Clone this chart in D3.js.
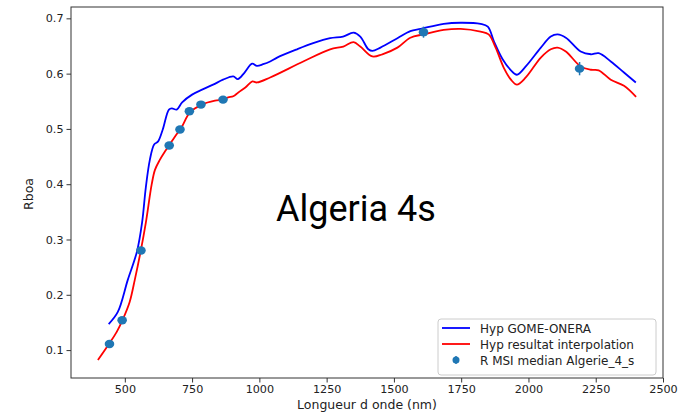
<!DOCTYPE html>
<html><head><meta charset="utf-8">
<script src="https://cdn.jsdelivr.net/npm/d3@7"></script>
<style>body{margin:0;background:#fff}svg{display:block}</style>
</head><body>
<svg id="c" width="695" height="414"></svg>
<script>
const xTicks = [500, 750, 1000, 1250, 1500, 1750, 2000, 2250, 2500];
const yTicks = [0.1, 0.2, 0.3, 0.4, 0.5, 0.6, 0.7];

const blueWl = [440,474,511,545,564,578,593,609,623,641,664,675,693,713,750,787,828,865,903,920,945,973,991,1014,1040,1066,1140,1200,1263,1311,1350,1375,1405,1420,1450,1513,1561,1600,1685,1748,1822,1849,1872,1904,1935,1957,1990,2046,2083,2108,2139,2194,2232,2261,2306,2355,2399];
const blueVal = [0.147,0.169,0.227,0.278,0.330,0.394,0.444,0.472,0.477,0.499,0.535,0.537,0.535,0.548,0.562,0.571,0.580,0.589,0.595,0.590,0.602,0.618,0.614,0.617,0.622,0.629,0.644,0.655,0.664,0.667,0.674,0.667,0.644,0.641,0.647,0.664,0.677,0.681,0.690,0.692,0.690,0.685,0.658,0.626,0.606,0.598,0.613,0.647,0.667,0.671,0.665,0.640,0.635,0.637,0.622,0.602,0.584];

const redWl = [400,441,470,493,518,537,559,578,600,612,630,649,667,686,712,742,787,835,865,884,903,922,948,974,991,1040,1163,1263,1312,1350,1375,1420,1457,1513,1561,1610,1685,1748,1822,1852,1878,1908,1935,1957,1990,2046,2083,2108,2139,2194,2232,2261,2306,2355,2400];
const redVal = [0.082,0.111,0.133,0.156,0.187,0.227,0.279,0.330,0.400,0.426,0.444,0.459,0.472,0.486,0.504,0.530,0.544,0.551,0.553,0.557,0.559,0.566,0.575,0.586,0.584,0.593,0.622,0.644,0.649,0.657,0.649,0.631,0.635,0.647,0.665,0.671,0.679,0.681,0.676,0.671,0.647,0.611,0.589,0.580,0.593,0.629,0.644,0.647,0.640,0.613,0.607,0.606,0.589,0.578,0.558];

const msiWl = [443,490,560,665,705,740,783,865,1610,2190];
const msiVal = [0.111,0.154,0.280,0.470,0.499,0.532,0.544,0.553,0.675,0.609];
const msiErr = [0.002,0.002,0.002,0.002,0.002,0.002,0.002,0.002,0.010,0.012];

const legendLabels = ["Hyp GOME-ONERA", "Hyp resultat interpolation", "R MSI median Algerie_4_s"];

const svg = d3.select("#c");
const L = 71, R = 663, T = 7, B = 378;
const x = d3.scaleLinear().domain([300, 2500]).range([L, R]);
const y = d3.scaleLinear().domain([0.0495, 0.7205]).range([B, T]);
const font = "'DejaVu Sans', sans-serif";

const line = d3.line().x(d => x(d[0])).y(d => y(d[1])).curve(d3.curveCatmullRom.alpha(0.5));
svg.append("path").datum(blueWl.map((w,i)=>[w, blueVal[i]]))
  .attr("d", line).attr("fill","none").attr("stroke","#0000ff").attr("stroke-width",1.8).attr("stroke-linejoin","round");
svg.append("path").datum(redWl.map((w,i)=>[w, redVal[i]]))
  .attr("d", line).attr("fill","none").attr("stroke","#ff0000").attr("stroke-width",1.8).attr("stroke-linejoin","round");

const msi = msiWl.map((w,i)=>({w, v: msiVal[i], e: msiErr[i]}));
svg.append("g").selectAll("line").data(msi).join("line")
  .attr("x1", d=>x(d.w)).attr("x2", d=>x(d.w))
  .attr("y1", d=>y(d.v - d.e)).attr("y2", d=>y(d.v + d.e))
  .attr("stroke","#1f77b4").attr("stroke-width",1.5);
svg.append("g").selectAll("ellipse").data(msi).join("ellipse")
  .attr("cx", d=>x(d.w)).attr("cy", d=>y(d.v)).attr("rx",4.8).attr("ry",4.2)
  .attr("fill","#1f77b4");

// axes
const xa = svg.append("g").attr("transform",`translate(0,${B})`)
  .call(d3.axisBottom(x).tickValues(xTicks).tickSize(4.5).tickPadding(3).tickFormat(d3.format("d")));
const ya = svg.append("g").attr("transform",`translate(${L},0)`)
  .call(d3.axisLeft(y).tickValues(yTicks).tickSize(4.5).tickPadding(3).tickFormat(d3.format(".1f")));
[xa, ya].forEach(g => {
  g.select(".domain").remove();
  g.selectAll("text").attr("font-family", font).attr("font-size", 11.2).attr("fill","#222");
  g.selectAll("line").attr("stroke","#333");
});
svg.append("rect").attr("x",L).attr("y",T).attr("width",R-L).attr("height",B-T)
  .attr("fill","none").attr("stroke","#333").attr("stroke-width",1);

svg.append("text").attr("x", 367).attr("y", 409).attr("text-anchor","middle")
  .attr("font-family", font).attr("font-size", 12.5).attr("fill","#222").text("Longueur d onde (nm)");
svg.append("text").attr("transform","translate(33,194) rotate(-90)").attr("text-anchor","middle")
  .attr("font-family", font).attr("font-size", 12.5).attr("fill","#222").text("Rboa");

// title
svg.append("text").attr("x",276).attr("y",221).attr("font-family","Roboto, sans-serif")
  .attr("font-size",36).attr("font-weight",400).attr("fill","#000").text("Algeria 4s");

// legend
const lg = svg.append("g");
lg.append("rect").attr("x",438).attr("y",319).attr("width",218).attr("height",56).attr("rx",3)
  .attr("fill","#fff").attr("fill-opacity",0.8).attr("stroke","#ccc");
const ly = [328, 344, 360];
lg.append("line").attr("x1",442).attr("x2",470).attr("y1",ly[0]).attr("y2",ly[0]).attr("stroke","#0000ff").attr("stroke-width",1.8);
lg.append("line").attr("x1",442).attr("x2",470).attr("y1",ly[1]).attr("y2",ly[1]).attr("stroke","#ff0000").attr("stroke-width",1.8);
lg.append("line").attr("x1",456).attr("x2",456).attr("y1",ly[2]-4).attr("y2",ly[2]+4).attr("stroke","#1f77b4").attr("stroke-width",1.5);
lg.append("ellipse").attr("cx",456).attr("cy",ly[2]).attr("rx",3.5).attr("ry",3.5).attr("fill","#1f77b4");
lg.selectAll("text.l").data(legendLabels).join("text").attr("class","l")
  .attr("x",480).attr("y",(d,i)=>ly[i]+4.5).attr("font-family",font).attr("font-size",12).attr("fill","#222").text(d=>d);
</script>
</body></html>
